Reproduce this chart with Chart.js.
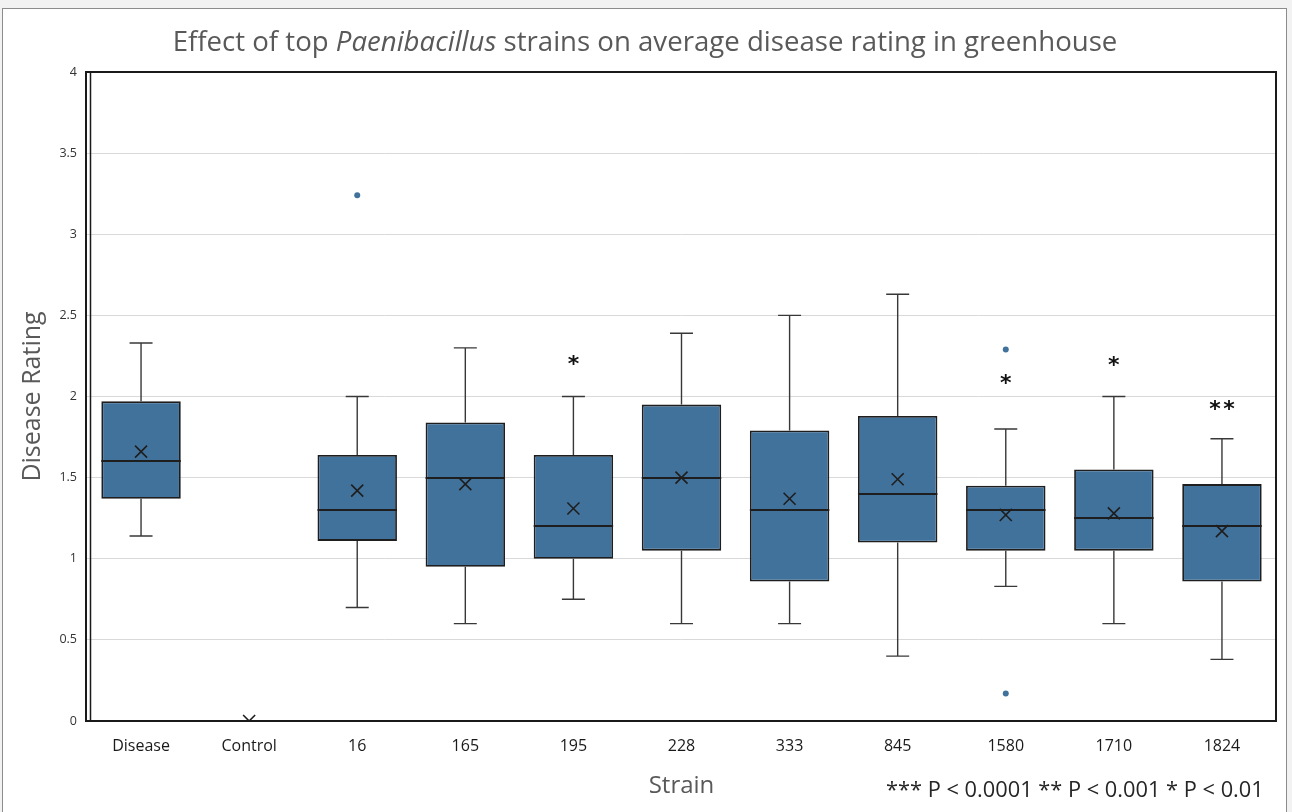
<!DOCTYPE html>
<html>
<head>
<meta charset="utf-8">
<script src="https://cdn.jsdelivr.net/npm/chart.js@4.4.1/dist/chart.umd.min.js"></script>
<style>
  html, body { margin: 0; padding: 0; background: #f2f2f2; }
  #frame { position: absolute; left: 2px; top: 8px; width: 1285px; height: 812px; background: #fff; border: 1px solid #8c8c8c; box-sizing: border-box; }
  #wrap { position: absolute; left: 0; top: 0; width: 1292px; height: 812px; }
  #title { position: absolute; left: 0; width: 1290px; top: 21px; text-align: center; font-family: "Open Sans", sans-serif; font-size: 27.6px; line-height: 38px; color: #595959; white-space: nowrap; }
  #note { position: absolute; left: 886px; top: 774px; font-family: "Open Sans", sans-serif; font-size: 21.8px; line-height: 30px; color: #262626; white-space: nowrap; }
</style>
</head>
<body>
<div id="frame"></div>
<div id="wrap"><canvas id="c" width="1292" height="812"></canvas></div>
<div id="title">Effect of top <i>Paenibacillus</i> strains on average disease rating in greenhouse</div>
<div id="note">*** P &lt; 0.0001 ** P &lt; 0.001 * P &lt; 0.01</div>
<script>
const categories = ['Disease', 'Control', '16', '165', '195', '228', '333', '845', '1580', '1710', '1824'];
const whiskerLow  = [1.14, 0, 0.70, 0.60, 0.75, 0.60, 0.60, 0.40, 0.83, 0.60, 0.38];
const q1          = [1.37, 0, 1.11, 0.95, 1.00, 1.05, 0.86, 1.10, 1.05, 1.05, 0.86];
const median      = [1.60, 0, 1.30, 1.50, 1.20, 1.50, 1.30, 1.40, 1.30, 1.25, 1.20];
const q3          = [1.97, 0, 1.64, 1.84, 1.64, 1.95, 1.79, 1.88, 1.45, 1.55, 1.46];
const whiskerHigh = [2.33, 0, 2.00, 2.30, 2.00, 2.39, 2.50, 2.63, 1.80, 2.00, 1.74];
const means       = [1.66, 0, 1.42, 1.46, 1.31, 1.50, 1.37, 1.49, 1.27, 1.28, 1.17];
const outlierCats = ['16', '1580', '1580'];
const outlierVals = [3.24, 2.29, 0.17];
const sigMarks    = ['', '', '', '', '*', '', '', '', '*', '*', '**'];
const sigY        = [null, null, null, null, 2.22, null, null, null, 2.10, 2.21, 1.94];
const yTicks      = [0, 0.5, 1, 1.5, 2, 2.5, 3, 3.5, 4];

const BOX_COLOR = '#41729c';
const LINE_DARK = '#1e1e1e';

const boxPlugin = {
  id: 'boxParts',
  beforeDatasetsDraw(chart) {
    const ctx = chart.ctx, x = chart.scales.x, y = chart.scales.y;
    ctx.save();
    ctx.strokeStyle = '#383838';
    ctx.lineWidth = 1.4;
    categories.forEach((c, i) => {
      const cx = x.getPixelForValue(i);
      const segs = [[q3[i], whiskerHigh[i]], [q1[i], whiskerLow[i]]];
      segs.forEach(([a, b]) => {
        if (a === b) return;
        ctx.beginPath();
        ctx.moveTo(cx, y.getPixelForValue(a));
        ctx.lineTo(cx, y.getPixelForValue(b));
        ctx.moveTo(cx - 11.5, y.getPixelForValue(b));
        ctx.lineTo(cx + 11.5, y.getPixelForValue(b));
        ctx.stroke();
      });
    });
    ctx.restore();
  },
  afterDatasetDraw(chart, args) {
    if (args.index !== 0) return;
    const ctx = chart.ctx, y = chart.scales.y;
    const meta = chart.getDatasetMeta(0);
    ctx.save();
    ctx.strokeStyle = LINE_DARK;
    ctx.lineWidth = 2;
    meta.data.forEach((bar, i) => {
      const half = bar.width / 2;
      const py = Math.round(y.getPixelForValue(median[i]));
      ctx.beginPath();
      ctx.moveTo(bar.x - half, py);
      ctx.lineTo(bar.x + half, py);
      ctx.stroke();
    });
    ctx.restore();
  },
  afterDatasetsDraw(chart) {
    const ctx = chart.ctx, x = chart.scales.x, y = chart.scales.y;
    ctx.save();
    ctx.fillStyle = '#111';
    ctx.font = 'bold 22px "DejaVu Sans", sans-serif';
    ctx.textAlign = 'center';
    ctx.textBaseline = 'middle';
    sigMarks.forEach((m, i) => {
      if (!m) return;
      const cx = x.getPixelForValue(i);
      const py = y.getPixelForValue(sigY[i]) + 4;
      const n = m.length, gap = 14;
      for (let k = 0; k < n; k++) {
        ctx.fillText('*', cx + (k - (n - 1) / 2) * gap, py);
      }
    });
    // plot border
    const a = chart.chartArea;
    ctx.strokeStyle = '#1a1a1a';
    ctx.lineWidth = 2;
    ctx.strokeRect(a.left - 1, a.top, a.right - a.left + 1, a.bottom - a.top);
    ctx.lineWidth = 1.5;
    ctx.beginPath();
    ctx.moveTo(a.left + 3.5, a.top);
    ctx.lineTo(a.left + 3.5, a.bottom);
    ctx.stroke();
    ctx.restore();
  }
};

new Chart(document.getElementById('c'), {
  data: {
    labels: categories,
    datasets: [
      {
        type: 'bar',
        data: categories.map((c, i) => [q1[i], q3[i]]),
        backgroundColor: BOX_COLOR,
        borderColor: LINE_DARK,
        borderWidth: 1.8,
        borderSkipped: false,
        barPercentage: 0.735,
        categoryPercentage: 1,
        order: 3
      },
      {
        type: 'line',
        data: means,
        showLine: false,
        pointStyle: 'crossRot',
        pointRadius: 8.5,
        pointBorderWidth: 1.6,
        pointBorderColor: LINE_DARK,
        order: 1
      },
      {
        type: 'line',
        data: outlierCats.map((c, i) => ({ x: c, y: outlierVals[i] })),
        showLine: false,
        pointStyle: 'circle',
        pointRadius: 3,
        pointBackgroundColor: BOX_COLOR,
        pointBorderColor: BOX_COLOR,
        pointBorderWidth: 0,
        order: 1
      }
    ]
  },
  options: {
    responsive: false,
    devicePixelRatio: 1,
    animation: false,
    events: [],
    layout: { padding: { top: 72, right: 16, left: 0, bottom: 0 } },
    plugins: { legend: { display: false }, tooltip: { enabled: false }, title: { display: false } },
    scales: {
      x: {
        type: 'category',
        grid: { display: false, drawTicks: false },
        border: { display: false },
        ticks: { color: '#1a1a1a', font: { family: '"Open Sans", sans-serif', size: 16 }, padding: 16, maxRotation: 0 },
        title: { display: true, text: 'Strain', color: '#595959', font: { family: '"Open Sans", sans-serif', size: 24 }, padding: { top: 10, bottom: 11 } },
        afterFit(s) { s.height = 91; }
      },
      y: {
        min: 0, max: 4,
        afterBuildTicks(s) { s.ticks = yTicks.map(v => ({ value: v })); },
        grid: { color: '#d9d9d9', lineWidth: 1, drawTicks: false },
        border: { display: false },
        ticks: { color: '#333', font: { family: '"Open Sans", sans-serif', size: 12.5 }, padding: 10, callback: v => String(v) },
        title: { display: true, text: 'Disease Rating', color: '#595959', font: { family: '"Open Sans", sans-serif', size: 25 }, padding: { top: 18, bottom: 0 } },
        afterFit(s) { s.width = 87; }
      }
    }
  },
  plugins: [boxPlugin]
});
</script>
</body>
</html>
